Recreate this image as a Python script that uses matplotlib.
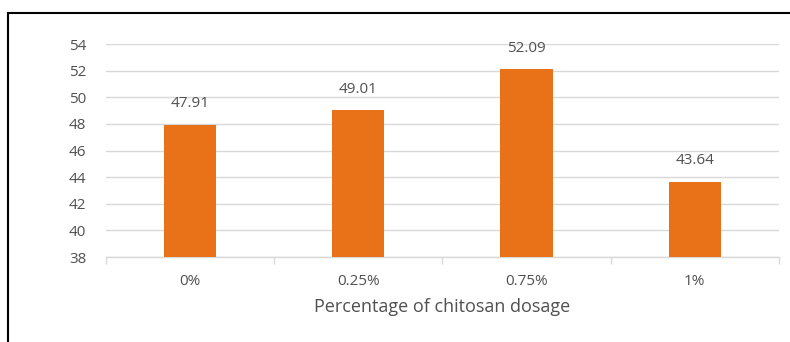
import numpy as np
from matplotlib import pyplot as plt
from matplotlib.lines import Line2D

# chitosan dosage vs value
dosage = ['0%', '0.25%', '0.75%', '1%']
values = [47.91, 49.01, 52.09, 43.64]

bar_color = '#E97118'
text_color = '#505050'
grid_color = '#D9D9D9'

plt.rcParams['font.family'] = ['Open Sans', 'DejaVu Sans']

fig = plt.figure(figsize=(7.9, 3.42), dpi=100)
ax = fig.add_axes([0.134, 0.2485, 0.852, 0.6228])

x = np.arange(len(dosage))
ax.bar(x, values, width=0.31, color=bar_color, zorder=3)

for xi, v in zip(x, values):
    ax.annotate(f'{v:.2f}', (xi, v), xytext=(0, 10), textcoords='offset points',
                ha='center', va='bottom', fontsize=11, color=text_color)

ax.set_ylim(38, 54)
ax.set_yticks(np.arange(38, 55, 2))
ax.set_xlim(-0.5, len(dosage) - 0.5)
ax.set_xticks(x)
ax.set_xticklabels(dosage)
ax.set_xticks(np.arange(-0.5, len(dosage), 1), minor=True)

ax.grid(axis='y', color=grid_color, linewidth=1, zorder=0)
for s in ['top', 'right', 'left']:
    ax.spines[s].set_visible(False)
ax.spines['bottom'].set_color(grid_color)
ax.spines['bottom'].set_linewidth(1)

ax.tick_params(axis='y', length=0, labelsize=11, labelcolor=text_color, pad=14)
ax.tick_params(axis='x', which='major', length=0, labelsize=11,
               labelcolor=text_color, pad=12)
ax.tick_params(axis='x', which='minor', length=5, color=grid_color, width=1)

ax.set_xlabel('Percentage of chitosan dosage', fontsize=13, color=text_color,
              labelpad=7)

# frame from the cropped screenshot
fig.add_artist(Line2D([8 / 790, 1], [1 - 13 / 342, 1 - 13 / 342],
                      transform=fig.transFigure, color='black', linewidth=1.5))
fig.add_artist(Line2D([8 / 790, 8 / 790], [0, 1 - 13 / 342],
                      transform=fig.transFigure, color='black', linewidth=1.5))

fig.savefig('out.png', dpi=100)
